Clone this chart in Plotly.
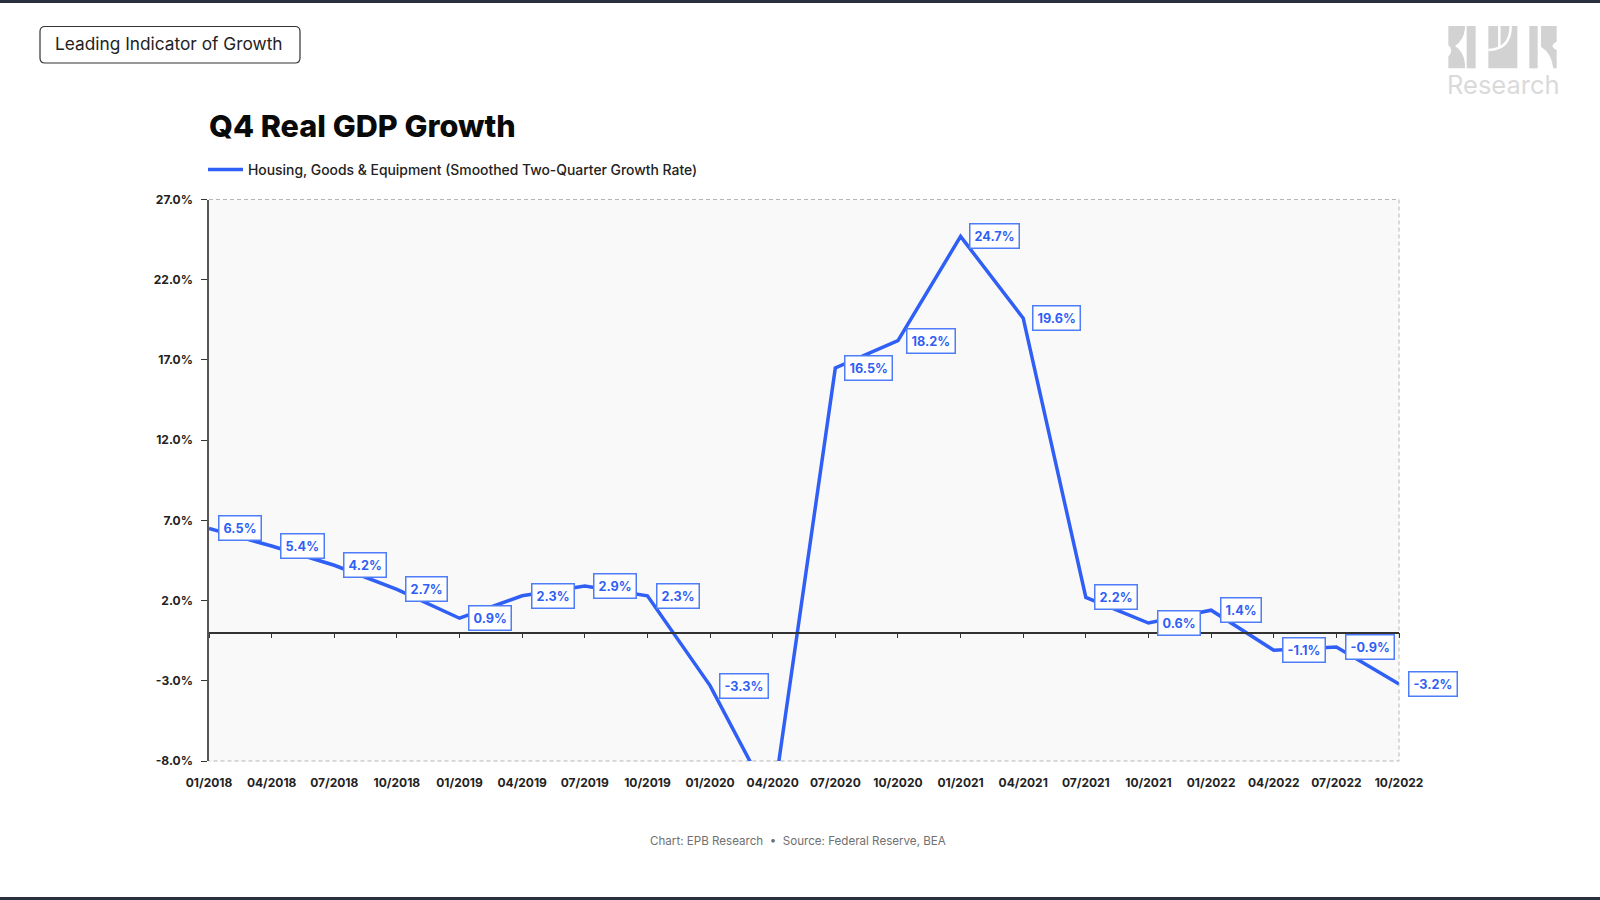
import plotly.graph_objects as go

# Dados
periodos = ["01/2018", "04/2018", "07/2018", "10/2018", "01/2019", "04/2019", "07/2019", "10/2019",
            "01/2020", "04/2020", "07/2020", "10/2020", "01/2021", "04/2021", "07/2021", "10/2021",
            "01/2022", "04/2022", "07/2022", "10/2022"]
crescimento = [6.5, 5.4, 4.2, 2.7, 0.9, 2.3, 2.9, 2.3, -3.3, -10.7, 16.5, 18.2, 24.7, 19.6, 2.2, 0.6,
               1.4, -1.1, -0.9, -3.2]
y_ticks = [-8, -3, 2, 7, 12, 17, 22, 27]
y_rotulos = ["-8.0%", "-3.0%", "2.0%", "7.0%", "12.0%", "17.0%", "22.0%", "27.0%"]

LARGURA, ALTURA = 1600, 900
ESQ, DIR, TOPO, BASE = 209, 1399, 199.5, 761
AZUL = "#2f5ff5"
BORDA_ROTULO = "#4f7cf8"
FONTE = "Inter"


def px_x(x):
    return x / LARGURA


def px_y(y):
    return 1 - y / ALTURA


def caminho(pontos, fechar=True):
    # pontos em pixels da pagina -> path em coordenadas paper
    partes = []
    for cmd, *coords in pontos:
        pares = [f"{px_x(coords[i]):.5f},{px_y(coords[i + 1]):.5f}" for i in range(0, len(coords), 2)]
        partes.append(cmd + " ".join(pares))
    return " ".join(partes) + (" Z" if fechar else "")


def logo(pontos, fechar=True):
    # pontos medidos no recorte do logo (escala 3x, origem em 1440,20)
    convertidos = []
    for cmd, *coords in pontos:
        novos = []
        for i in range(0, len(coords), 2):
            novos += [1440 + coords[i] / 3, 20 + coords[i + 1] / 3]
        convertidos.append((cmd, *novos))
    return caminho(convertidos, fechar)


fig = go.Figure()

# Linha principal
fig.add_trace(go.Scatter(
    x=periodos, y=crescimento, mode="lines", xaxis="x", yaxis="y",
    name="Housing, Goods & Equipment (Smoothed Two-Quarter Growth Rate)",
    line=dict(color=AZUL, width=3.5), hoverinfo="x+y",
))
# Traco invisivel so para ativar o eixo do zero
fig.add_trace(go.Scatter(
    x=periodos, y=[0] * len(periodos), mode="lines", xaxis="x2", yaxis="y",
    line=dict(color="rgba(0,0,0,0)", width=0), showlegend=False, hoverinfo="skip",
))

# Rotulos de dados (o de 04/2020 fica fora da escala)
for periodo, valor in zip(periodos, crescimento):
    if valor < y_ticks[0]:
        continue
    fig.add_annotation(
        x=periodo, y=valor, text=f"{valor:.1f}%", showarrow=False,
        xanchor="left", yanchor="middle", xshift=8.5,
        font=dict(family=FONTE, size=12.7, color=AZUL, weight=700),
        bgcolor="white", bordercolor=BORDA_ROTULO, borderwidth=1.5, borderpad=4,
    )

# Etiqueta do topo
fig.add_annotation(
    xref="paper", yref="paper", x=px_x(169), y=px_y(44), xanchor="center", yanchor="middle",
    text="Leading Indicator of Growth", showarrow=False,
    font=dict(family=FONTE, size=17.3, color="#222222"),
)
# Rodape
fig.add_annotation(
    xref="paper", yref="paper", x=px_x(798), y=px_y(841), xanchor="center", yanchor="middle",
    text="Chart: EPB Research  •  Source: Federal Reserve, BEA",
    showarrow=False, font=dict(family=FONTE, size=11.6, color="#707070"),
)
# Logo
fig.add_annotation(
    xref="paper", yref="paper", x=px_x(1503), y=px_y(84.5), xanchor="center", yanchor="middle",
    text="Research", showarrow=False, font=dict(family=FONTE, size=25.5, color="#dadada"),
)

CINZA_LOGO = "#d2d2d2"
base_logo = dict(type="path", xref="paper", yref="paper", fillcolor=CINZA_LOGO, line_width=0)
corte_logo = dict(type="path", xref="paper", yref="paper", fillcolor="rgba(0,0,0,0)",
                  line=dict(color="white", width=2.5))
shapes = [
    # faixas escuras da captura
    dict(type="rect", xref="paper", yref="paper", x0=0, x1=1, y0=px_y(3), y1=1, fillcolor="#2b3040", line_width=0),
    dict(type="rect", xref="paper", yref="paper", x0=0, x1=1, y0=0, y1=px_y(897), fillcolor="#2b3040", line_width=0),
    # moldura tracejada da area do grafico
    dict(type="path", xref="paper", yref="paper", layer="below",
         path=f"M{px_x(ESQ)},{px_y(TOPO)} L{px_x(DIR)},{px_y(TOPO)} L{px_x(DIR)},{px_y(BASE)} L{px_x(ESQ)},{px_y(BASE)}",
         line=dict(color="#b5b5b5", width=1, dash="4px,3px")),
    # caixa arredondada da etiqueta
    dict(type="path", xref="paper", yref="paper",
         path=caminho([("M", 45, 26.5), ("L", 295, 26.5), ("Q", 300, 26.5, 300, 31.5), ("L", 300, 58),
                       ("Q", 300, 63, 295, 63), ("L", 45, 63), ("Q", 40, 63, 40, 58), ("L", 40, 31.5),
                       ("Q", 40, 26.5, 45, 26.5)]),
         line=dict(color="#333333", width=1.2)),
    # logo EPB: letra E
    dict(base_logo, path=logo([("M", 25, 18), ("L", 75, 18), ("L", 75, 25), ("Q", 72, 60, 45, 78),
                               ("Q", 72, 95, 75, 132), ("L", 75, 145), ("L", 25, 145), ("L", 25, 110),
                               ("Q", 42, 92, 25, 75)])),
    dict(base_logo, path=logo([("M", 80, 18), ("L", 107, 18), ("L", 107, 145), ("L", 80, 145)])),
    # letra P
    dict(base_logo, path=logo([("M", 145, 18), ("L", 232, 18), ("L", 232, 145), ("L", 145, 145)])),
    dict(corte_logo, path=logo([("M", 178, 18), ("L", 178, 82)], fechar=False)),
    dict(corte_logo, path=logo([("M", 212, 18), ("Q", 212, 88, 145, 90)], fechar=False)),
    # letra B
    dict(base_logo, path=logo([("M", 268, 18), ("L", 293, 18), ("L", 293, 145), ("L", 268, 145)])),
    dict(base_logo, path=logo([("M", 303, 18), ("L", 350, 18), ("L", 350, 65), ("Q", 325, 78, 350, 90),
                               ("L", 350, 145), ("L", 340, 145), ("Q", 335, 100, 303, 80)])),
]

fig.update_layout(
    width=LARGURA, height=ALTURA,
    margin=dict(l=0, r=0, t=0, b=0, autoexpand=False),
    paper_bgcolor="white", plot_bgcolor="#f9f9f9",
    font=dict(family=FONTE, color="#222222"),
    title=dict(
        text="Q4 Real GDP Growth", xref="paper", yref="paper", automargin=False,
        x=px_x(ESQ), xanchor="left", y=px_y(126), yanchor="middle",
        font=dict(family=FONTE, size=30.6, color="#0a0a0a", weight=800),
    ),
    legend=dict(
        x=px_x(203), y=px_y(170), xanchor="left", yanchor="middle", orientation="h", itemwidth=35,
        bgcolor="rgba(0,0,0,0)", font=dict(family=FONTE, size=13.9, color="#222222", weight=500),
    ),
    showlegend=True,
    xaxis=dict(
        domain=[px_x(ESQ), px_x(DIR)], type="category", categoryorder="array", categoryarray=periodos,
        range=[0, len(periodos) - 1], showgrid=False, zeroline=False, showline=False, ticks="",
        tickfont=dict(family=FONTE, size=12, color="#222222", weight=700), tickangle=0,
        anchor="y", ticklabelstandoff=13, automargin=False,
    ),
    xaxis2=dict(
        domain=[px_x(ESQ), px_x(DIR)], type="category", categoryorder="array", categoryarray=periodos,
        range=[0, len(periodos) - 1], overlaying="x", anchor="free",
        position=px_y(BASE) + (0 - y_ticks[0]) / (y_ticks[-1] - y_ticks[0]) * (px_y(TOPO) - px_y(BASE)),
        side="bottom", showgrid=False, zeroline=False, showline=True, linecolor="#333333", linewidth=1.5,
        ticks="outside", ticklen=5, tickcolor="#333333", showticklabels=False, automargin=False,
    ),
    yaxis=dict(
        domain=[px_y(BASE), px_y(TOPO)], range=[y_ticks[0], y_ticks[-1]], tickmode="array",
        tickvals=y_ticks, ticktext=y_rotulos, showgrid=False, zeroline=False, showline=True,
        linecolor="#555555", linewidth=1.5, ticks="outside", ticklen=6, tickcolor="#333333",
        tickfont=dict(family=FONTE, size=12, color="#222222", weight=700), anchor="x", automargin=False,
        ticklabelstandoff=6,
    ),
    shapes=shapes,
)

# tira a margem padrao do body para a figura ocupar a janela inteira
fig.write_html("out.html", config={"displayModeBar": False},
               post_script="document.body.style.margin='0';")
